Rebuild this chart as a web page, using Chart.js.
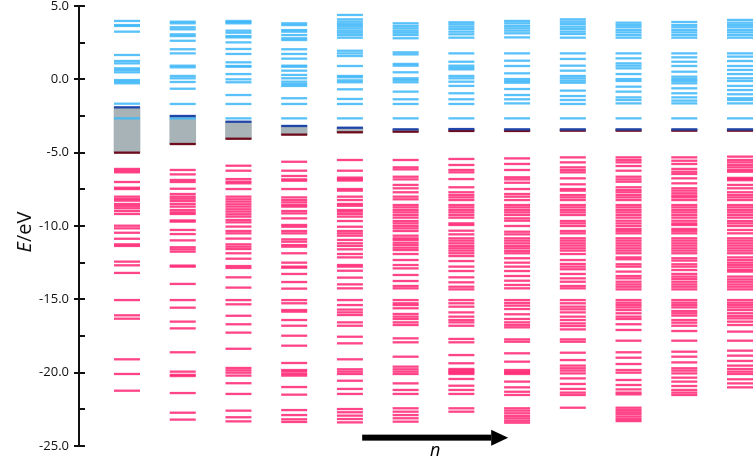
<!DOCTYPE html>
<html>
<head>
<meta charset="utf-8">
<script src="https://cdn.jsdelivr.net/npm/chart.js@4.4.1/dist/chart.umd.min.js"></script>
<style>
  html, body { margin: 0; padding: 0; background: #fff; }
  #wrap { width: 756px; height: 457px; position: relative; }
</style>
</head>
<body>
<div id="wrap"><canvas id="chart"></canvas></div>
<script>
// ── Level data (eV), one array per structure n = 1..12 ─────────────
// unoccupied (virtual) levels
const virt1  = [3.98, 3.70, 3.64, 3.25, 1.66, 1.25, 1.09, 0.75, 0.64, 0.48, -0.05, -0.16, -0.27, -1.66, -2.66];
const virt2  = [3.93, 3.82, 3.55, 3.41, 3.07, 2.95, 2.63, 2.05, 1.77, 0.93, 0.82, 0.23, 0.07, -0.18, -0.64, -1.68, -2.66];
const virt3  = [3.98, 3.90, 3.82, 3.32, 3.18, 2.95, 2.86, 2.52, 2.07, 1.73, 1.16, 0.91, 0.86, 0.36, 0.0, -0.2, -1.07, -1.68, -2.66];
const virt4  = [3.82, 3.70, 3.36, 3.25, 3.02, 2.80, 2.68, 2.05, 1.73, 1.41, 0.93, 0.86, 0.59, 0.30, 0.07, -0.16, -0.32, -0.45, -1.29, -1.68, -2.66];
const virt5  = [4.39, 4.09, 3.93, 3.77, 3.64, 3.48, 3.32, 3.18, 3.02, 2.84, 1.95, 1.77, 1.59, 0.91, 0.23, 0.14, -0.07, -0.2, -0.68, -1.34, -1.68, -2.66];
const virt6  = [3.82, 3.64, 3.48, 3.32, 3.18, 3.02, 2.80, 1.84, 1.70, 1.05, 0.93, 0.48, 0.07, -0.05, -0.2, -0.84, -1.36, -1.68, -2.66];
const virt7  = [3.89, 3.75, 3.59, 3.43, 3.25, 3.07, 2.84, 1.77, 1.20, 0.93, 0.80, 0.68, 0.23, 0.07, -0.16, -0.45, -0.95, -1.36, -1.68, -2.66];
const virt8  = [3.98, 3.82, 3.64, 3.48, 3.32, 3.14, 2.86, 1.77, 1.27, 0.91, 0.41, 0.02, -0.11, -0.23, -0.66, -1.07, -1.36, -1.64, -2.66];
const virt9  = [4.09, 3.93, 3.77, 3.59, 3.43, 3.25, 3.09, 2.84, 1.77, 1.39, 0.93, 0.59, 0.23, 0.07, -0.09, -0.23, -0.77, -1.14, -1.41, -1.68, -2.66];
const virt10 = [3.86, 3.70, 3.55, 3.36, 3.20, 3.02, 2.84, 1.77, 1.43, 1.09, 0.93, 0.75, 0.36, 0.02, -0.11, -0.5, -0.84, -1.23, -1.41, -1.64, -2.66];
const virt11 = [3.91, 3.70, 3.55, 3.36, 3.20, 3.02, 2.84, 1.77, 1.50, 1.20, 0.91, 0.52, 0.18, 0.02, -0.11, -0.27, -0.61, -0.95, -1.23, -1.45, -1.64, -2.66];
const virt12 = [4.05, 3.86, 3.70, 3.55, 3.36, 3.20, 3.02, 2.84, 1.77, 1.55, 1.25, 0.91, 0.64, 0.36, 0.07, -0.11, -0.45, -0.73, -1.02, -1.29, -1.41, -1.64, -2.66];

// occupied levels
const occ1  = [-6.11, -6.23, -6.34, -7.0, -7.39, -7.48, -8.0, -8.16, -8.27, -8.5, -8.64, -8.79, -8.98, -9.18, -9.98, -10.16, -10.46, -10.87, -11.25, -11.36, -12.43, -12.68, -13.2, -15.05, -16.09, -16.32, -19.09, -20.09, -21.23];
const occ2  = [-6.18, -6.48, -6.86, -7.0, -7.46, -7.82, -8.0, -8.14, -8.3, -8.5, -8.68, -8.91, -9.07, -9.18, -9.62, -9.7, -10.27, -10.55, -10.98, -11.45, -11.59, -11.75, -12.7, -12.77, -13.95, -15.05, -15.57, -16.52, -16.98, -18.61, -19.93, -20.15, -20.23, -21.39, -22.73, -23.2];
const occ3  = [-5.89, -6.23, -6.8, -6.98, -7.09, -7.48, -8.0, -8.18, -8.34, -8.52, -8.68, -8.86, -9.02, -9.2, -9.36, -9.59, -9.75, -10.04, -10.34, -10.5, -10.86, -11.25, -11.41, -11.57, -11.86, -12.23, -12.73, -12.86, -13.5, -14.2, -15.05, -15.34, -16.12, -16.7, -17.27, -18.37, -19.68, -19.84, -20.0, -20.2, -20.72, -21.45, -22.59, -23.04, -23.32];
const occ4  = [-5.62, -6.23, -6.59, -6.82, -6.91, -7.48, -8.05, -8.23, -8.39, -8.57, -8.68, -8.98, -9.14, -9.48, -9.93, -10.05, -10.34, -10.5, -10.91, -11.07, -11.3, -11.41, -11.86, -12.5, -12.77, -12.84, -13.27, -13.82, -14.27, -15.05, -15.27, -15.73, -15.84, -16.41, -16.8, -17.48, -18.16, -19.34, -19.82, -19.93, -20.09, -20.2, -20.98, -21.5, -22.55, -22.89, -23.18, -23.36];
const occ5  = [-5.5, -6.23, -6.7, -6.8, -6.9, -7.48, -7.59, -8.0, -8.23, -8.5, -8.62, -8.91, -9.02, -9.18, -9.36, -9.66, -10.05, -10.34, -10.5, -10.66, -10.95, -11.18, -11.36, -11.59, -11.91, -12.14, -12.66, -12.77, -13.05, -13.52, -13.98, -14.25, -15.05, -15.39, -15.7, -15.89, -16.07, -16.57, -16.8, -17.55, -18.0, -19.09, -19.77, -19.93, -20.09, -20.55, -21.11, -21.45, -22.48, -22.7, -22.93, -23.16, -23.39];
const occ6  = [-5.5, -6.0, -6.14, -6.64, -6.82, -7.2, -7.43, -7.7, -8.0, -8.18, -8.57, -8.73, -8.91, -9.07, -9.25, -9.43, -9.66, -9.82, -10.0, -10.16, -10.34, -10.66, -10.84, -10.95, -11.14, -11.3, -11.48, -11.64, -11.91, -12.32, -12.66, -12.89, -13.34, -13.75, -14.09, -14.25, -15.05, -15.27, -15.39, -15.61, -16.0, -16.18, -16.34, -16.57, -16.75, -17.66, -17.93, -18.91, -19.59, -19.77, -19.93, -20.09, -20.73, -21.18, -21.45, -22.43, -22.66, -22.89, -23.11, -23.34];
const occ7  = [-5.43, -5.84, -6.18, -6.34, -6.8, -7.36, -7.7, -7.89, -8.05, -8.23, -8.57, -8.73, -8.91, -9.07, -9.25, -9.43, -9.82, -9.93, -10.32, -10.57, -10.84, -11.0, -11.18, -11.36, -11.52, -11.68, -11.86, -12.05, -12.39, -12.77, -13.07, -13.5, -13.84, -14.14, -14.32, -15.05, -15.27, -15.5, -15.89, -16.18, -16.41, -16.57, -16.8, -17.7, -17.93, -18.8, -19.36, -19.75, -19.84, -19.93, -20.0, -20.09, -20.43, -20.89, -21.18, -21.45, -22.43, -22.66];
const occ8  = [-5.39, -5.77, -6.18, -6.68, -6.82, -7.05, -7.48, -7.82, -8.0, -8.23, -8.57, -8.73, -8.91, -9.07, -9.25, -9.48, -9.64, -10.0, -10.39, -10.57, -10.84, -11.0, -11.18, -11.36, -11.52, -11.7, -11.86, -12.2, -12.5, -12.77, -13.07, -13.41, -13.73, -14.02, -14.25, -15.05, -15.25, -15.43, -15.66, -16.02, -16.34, -16.57, -16.75, -16.91, -17.73, -17.89, -18.68, -19.25, -19.82, -19.93, -20.0, -20.09, -20.61, -21.0, -21.3, -21.52, -22.43, -22.59, -22.77, -22.95, -23.11, -23.27, -23.41];
const occ9  = [-5.32, -5.66, -6.0, -6.18, -6.34, -6.75, -7.16, -7.48, -7.59, -7.89, -8.05, -8.23, -8.57, -8.73, -8.91, -9.07, -9.25, -9.66, -9.82, -10.0, -10.34, -10.5, -10.84, -11.0, -11.18, -11.34, -11.52, -11.68, -11.91, -12.32, -12.59, -12.77, -12.95, -13.27, -13.57, -13.8, -14.09, -14.25, -15.05, -15.27, -15.5, -15.68, -15.89, -16.18, -16.41, -16.64, -16.82, -17.05, -17.73, -17.89, -18.64, -19.14, -19.52, -19.7, -19.86, -20.05, -20.39, -20.77, -21.11, -21.36, -21.52, -22.39];
const occ10 = [-5.32, -5.5, -5.66, -5.91, -6.23, -6.64, -6.82, -6.98, -7.36, -7.55, -7.7, -7.89, -8.05, -8.23, -8.57, -8.73, -8.91, -9.07, -9.25, -9.43, -9.64, -9.82, -10.0, -10.2, -10.34, -10.5, -10.84, -11.0, -11.18, -11.34, -11.52, -11.68, -11.86, -12.14, -12.27, -12.61, -12.77, -13.11, -13.41, -13.57, -13.8, -13.98, -14.14, -14.32, -15.05, -15.23, -15.39, -15.55, -15.73, -15.95, -16.18, -16.34, -16.7, -17.09, -17.82, -18.61, -18.98, -19.41, -19.82, -20.0, -20.5, -20.84, -21.14, -21.36, -21.48, -22.39, -22.55, -22.7, -22.84, -23.0, -23.16, -23.3];
const occ11 = [-5.32, -5.55, -5.77, -6.11, -6.3, -6.45, -6.75, -7.09, -7.43, -7.59, -7.77, -7.93, -8.05, -8.23, -8.57, -8.73, -8.91, -9.07, -9.25, -9.43, -9.64, -9.82, -9.93, -10.2, -10.34, -10.5, -10.84, -11.0, -11.18, -11.34, -11.52, -11.68, -11.86, -12.2, -12.36, -12.61, -12.77, -13.0, -13.27, -13.45, -13.61, -13.8, -13.98, -14.14, -14.32, -15.05, -15.23, -15.39, -15.55, -15.8, -15.95, -16.11, -16.41, -16.59, -16.8, -17.16, -17.82, -18.57, -18.91, -19.3, -19.7, -19.86, -20.05, -20.34, -20.61, -20.91, -21.18, -21.36, -21.52];
const occ12 = [-5.27, -5.5, -5.66, -5.84, -6.0, -6.18, -6.3, -6.72, -6.8, -6.88, -7.2, -7.43, -7.7, -7.89, -8.05, -8.23, -8.57, -8.73, -8.91, -9.07, -9.25, -9.43, -9.66, -9.82, -10.0, -10.27, -10.5, -10.84, -11.0, -11.18, -11.34, -11.52, -11.68, -11.86, -12.14, -12.32, -12.5, -12.66, -12.82, -13.0, -13.11, -13.45, -13.64, -13.8, -13.98, -14.14, -14.32, -15.05, -15.23, -15.39, -15.55, -15.73, -15.95, -16.14, -16.3, -16.52, -16.75, -17.2, -17.82, -18.5, -18.84, -19.2, -19.52, -19.75, -19.93, -20.09, -20.45, -20.73, -21.0];

// frontier levels and the gap between them
const lumo = [-1.91, -2.50, -2.89, -3.18, -3.30, -3.41, -3.39, -3.41, -3.41, -3.41, -3.41, -3.41];
const homo = [-5.00, -4.41, -4.05, -3.77, -3.61, -3.57, -3.52, -3.52, -3.50, -3.50, -3.50, -3.50];

// axis ticks
const majorTicks = [5, 0, -5, -10, -15, -20, -25];
const minorTicks = [2.5, -2.5, -7.5, -12.5, -17.5, -22.5];

// arrow under the columns (x in column units, y in eV)
const arrowFrom = 5.22;
const arrowTo   = 7.84;
const arrowY    = -24.43;

const virtLevels = [virt1, virt2, virt3, virt4, virt5, virt6, virt7, virt8, virt9, virt10, virt11, virt12];
const occLevels  = [occ1, occ2, occ3, occ4, occ5, occ6, occ7, occ8, occ9, occ10, occ11, occ12];

const toPoints = cols => cols.flatMap((lv, i) => lv.map(e => ({ x: i + 1, y: e })));

const BLUE = 'rgba(60,182,248,0.85)';
const PINK = 'rgba(255,42,118,0.88)';

const levelStyle = color => ({
  type: 'scatter',
  pointStyle: 'line',
  pointRadius: 13,
  pointHoverRadius: 13,
  borderWidth: 2.3,
  pointBorderWidth: 2.3,
  borderColor: color,
  backgroundColor: color,
});

// ── Decorations: tick marks + labels, axis title, n arrow ──────────
const decor = {
  id: 'decor',
  afterDraw(chart) {
    const { ctx, chartArea } = chart;
    const { x, y } = chart.scales;
    const ax = chartArea.left;
    ctx.save();
    ctx.strokeStyle = '#111';
    ctx.lineWidth = 2;
    ctx.beginPath();
    majorTicks.forEach(v => {
      const py = Math.round(y.getPixelForValue(v));
      ctx.moveTo(ax - 5, py); ctx.lineTo(ax + 6, py);
    });
    minorTicks.forEach(v => {
      const py = Math.round(y.getPixelForValue(v));
      ctx.moveTo(ax, py); ctx.lineTo(ax + 6, py);
    });
    ctx.stroke();

    // tick labels
    ctx.fillStyle = '#111';
    ctx.font = '13px "Open Sans"';
    ctx.textAlign = 'right';
    ctx.textBaseline = 'middle';
    majorTicks.forEach(v => ctx.fillText(v.toFixed(1), ax - 10, y.getPixelForValue(v)));

    // y title  E/eV
    ctx.save();
    ctx.translate(31, (chartArea.top + chartArea.bottom) / 2 + 6);
    ctx.rotate(-Math.PI / 2);
    ctx.textAlign = 'left';
    ctx.textBaseline = 'alphabetic';
    ctx.font = 'italic 20px "Open Sans"';
    const wE = ctx.measureText('E').width;
    ctx.font = '20px "Open Sans"';
    const wRest = ctx.measureText('/eV').width;
    const start = -(wE + wRest) / 2;
    ctx.font = 'italic 20px "Open Sans"';
    ctx.fillText('E', start, 0);
    ctx.font = '20px "Open Sans"';
    ctx.fillText('/eV', start + wE, 0);
    ctx.restore();

    // arrow
    const x1 = x.getPixelForValue(arrowFrom);
    const x2 = x.getPixelForValue(arrowTo);
    const yy = y.getPixelForValue(arrowY);
    ctx.fillStyle = '#000';
    ctx.fillRect(x1, yy - 3, (x2 - 17) - x1, 6);
    ctx.beginPath();
    ctx.moveTo(x2 - 17, yy - 8);
    ctx.lineTo(x2, yy);
    ctx.lineTo(x2 - 17, yy + 8);
    ctx.closePath();
    ctx.fill();
    ctx.font = 'italic 18px "Open Sans"';
    ctx.textAlign = 'center';
    ctx.textBaseline = 'alphabetic';
    ctx.fillText('n', x.getPixelForValue((arrowFrom + arrowTo) / 2), yy + 18);
    ctx.restore();
  }
};

new Chart(document.getElementById('chart'), {
  type: 'scatter',
  data: {
    datasets: [
      { ...levelStyle('#1f45a8'), data: lumo.map((e, i) => ({ x: i + 1, y: e })), order: 0 },
      { ...levelStyle('#6e0c1e'), data: homo.map((e, i) => ({ x: i + 1, y: e })), order: 0 },
      { ...levelStyle(BLUE), data: toPoints(virtLevels), order: 1 },
      { ...levelStyle(PINK), data: toPoints(occLevels), order: 1 },
      {
        type: 'bar',
        data: homo.map((h, i) => ({ x: i + 1, y: [h, lumo[i]] })),
        backgroundColor: '#a8b3b8',
        borderWidth: 0,
        barThickness: 26,
        order: 2,
      },
    ],
  },
  options: {
    responsive: true,
    maintainAspectRatio: false,
    animation: false,
    events: [],
    layout: { autoPadding: false, padding: { top: 6, bottom: 11, left: 0, right: 0 } },
    plugins: { legend: { display: false }, tooltip: { enabled: false } },
    scales: {
      x: { type: 'linear', display: false, offset: false, min: 0.1387, max: 12.287, grid: { offset: false } },
      y: {
        type: 'linear',
        min: -25, max: 5,
        ticks: { display: false, stepSize: 5 },
        grid: { display: false, drawTicks: false },
        border: { display: true, color: '#111', width: 2 },
        afterFit(scale) {
          scale.width = 79;
          scale.paddingTop = 0;
          scale.paddingBottom = 0;
        },
      },
    },
  },
  plugins: [decor],
});
</script>
</body>
</html>
